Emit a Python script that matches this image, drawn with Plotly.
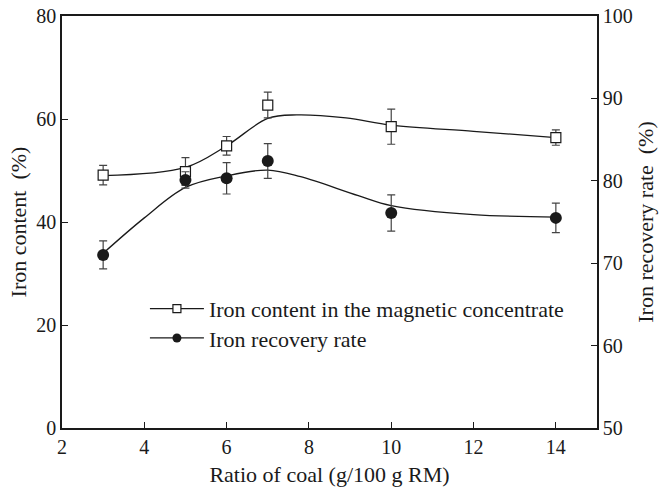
import plotly.graph_objects as go

# Measured data: coal ratio vs. iron content (left axis) and recovery (right axis)
coal_ratio = [3, 5, 6, 7, 10, 14]
iron_content = [49.1, 49.8, 54.8, 62.7, 58.5, 56.4]
iron_content_err = [1.9, 2.7, 1.8, 2.5, 3.4, 1.5]
recovery_rate = [71.0, 80.1, 80.3, 82.4, 76.1, 75.5]
recovery_rate_err = [1.7, 1.0, 1.9, 2.1, 2.2, 1.8]

# Fitted trend curves
fit_x_content = [3, 5, 6, 7, 7.7, 8.9, 10, 12, 14]
fit_content = [49.0, 50.6, 54.8, 60.1, 60.8, 60.2, 58.8, 57.6, 56.4]
fit_x_recovery = [3, 4, 5, 6, 7, 7.8, 9.2, 10, 12, 14]
fit_recovery = [71.2, 75.5, 79.2, 80.6, 81.3, 80.5, 78.2, 77.0, 75.9, 75.6]

FONT = "Liberation Serif"
INK = "#1a1a1a"
ERR = "#444444"

fig = go.Figure()

# trend curves
fig.add_trace(go.Scatter(x=fit_x_content, y=fit_content, mode="lines",
                         line=dict(color=INK, width=1.3, shape="spline", smoothing=1.0),
                         showlegend=False, hoverinfo="skip"))
fig.add_trace(go.Scatter(x=fit_x_recovery, y=fit_recovery, mode="lines", yaxis="y2",
                         line=dict(color=INK, width=1.3, shape="spline", smoothing=1.0),
                         showlegend=False, hoverinfo="skip"))

# measured points with error bars
fig.add_trace(go.Scatter(x=coal_ratio, y=iron_content, mode="markers",
                         marker=dict(symbol="square", size=10, color="white",
                                     line=dict(color=INK, width=1.2)),
                         error_y=dict(type="data", array=iron_content_err, color=ERR,
                                      thickness=1.2, width=4),
                         showlegend=False))
fig.add_trace(go.Scatter(x=coal_ratio, y=recovery_rate, mode="markers", yaxis="y2",
                         marker=dict(symbol="circle", size=12, color=INK,
                                     line=dict(color=INK, width=0)),
                         error_y=dict(type="data", array=recovery_rate_err, color=ERR,
                                      thickness=1.2, width=4),
                         showlegend=False))

# legend entries (one legend box per row for tight line spacing)
fig.add_trace(go.Scatter(x=[None], y=[None], mode="lines+markers",
                         name="Iron content in the magnetic concentrate",
                         line=dict(color=INK, width=1.3),
                         marker=dict(symbol="square", size=8, color="white",
                                     line=dict(color=INK, width=1.2)),
                         legend="legend"))
fig.add_trace(go.Scatter(x=[None], y=[None], mode="lines+markers", yaxis="y2",
                         name="Iron recovery rate",
                         line=dict(color=INK, width=1.3),
                         marker=dict(symbol="circle", size=9, color=INK),
                         legend="legend2"))

axis_common = dict(showline=True, linecolor=INK, linewidth=1.5, ticks="inside",
                   ticklen=6, tickwidth=1.3, tickcolor=INK, showgrid=False,
                   zeroline=False, automargin=False,
                   tickfont=dict(family=FONT, size=20, color=INK))

legend_common = dict(x=0.155, xanchor="left", yanchor="top", bgcolor="rgba(0,0,0,0)",
                     font=dict(family=FONT, size=22, color=INK), itemwidth=54)

fig.update_layout(
    width=659, height=489,
    margin=dict(l=62, r=62, t=16, b=61),
    paper_bgcolor="white", plot_bgcolor="white",
    font=dict(family=FONT, color=INK),
    xaxis=dict(range=[2, 15], tickvals=[2, 4, 6, 8, 10, 12, 14], mirror=True,
               title=dict(text="Ratio of coal (g/100 g RM)",
                          font=dict(family=FONT, size=22), standoff=10),
               **axis_common),
    yaxis=dict(range=[0, 80], tickvals=[0, 20, 40, 60, 80],
               title=dict(text="Iron content  (%)", font=dict(family=FONT, size=22),
                          standoff=4),
               **axis_common),
    yaxis2=dict(range=[50, 100], tickvals=[50, 60, 70, 80, 90, 100], overlaying="y",
                side="right",
                title=dict(text="Iron recovery rate  (%)", font=dict(family=FONT, size=22),
                           standoff=6),
                **axis_common),
    legend=dict(y=0.340, **legend_common),
    legend2=dict(y=0.269, **legend_common),
)

fig.write_html("out.html")
